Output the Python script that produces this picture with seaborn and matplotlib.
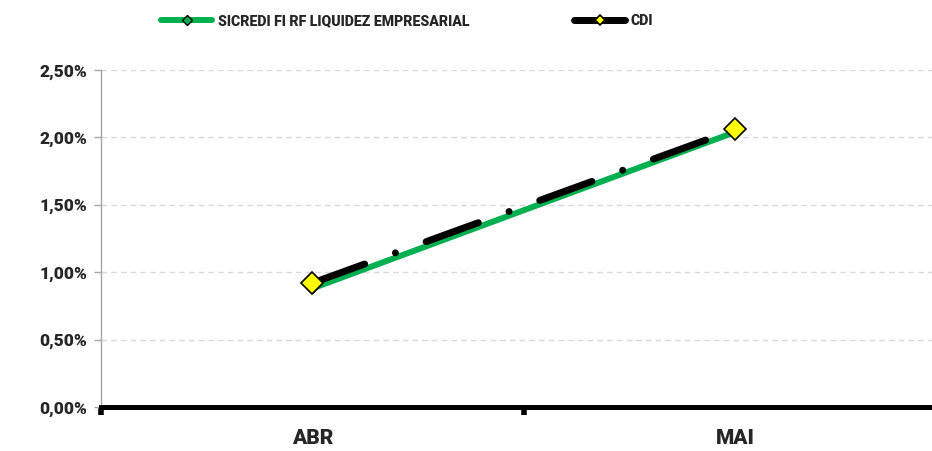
import seaborn as sns
import matplotlib.pyplot as plt
import pandas as pd
from matplotlib.ticker import FuncFormatter, FixedLocator

months = ["ABR", "MAI"]
fundo = [0.0088, 0.0204]
cdi = [0.0092, 0.0206]
y_ticks = [0.0, 0.005, 0.010, 0.015, 0.020, 0.025]

sns.set_theme(style="white")
plt.rcParams['font.family'] = ['Roboto', 'DejaVu Sans']

data = pd.DataFrame({"mes": months, "fundo": fundo, "cdi": cdi})

fig = plt.figure(figsize=(9.32, 4.51), dpi=100)
ax = fig.add_axes([0.1084, 0.0976, 0.8916, 0.7472])

sns.lineplot(data=data, x="mes", y="fundo", ax=ax, color="#00B050", linewidth=4.3,
             marker="D", markersize=5, markerfacecolor="#00B050", markeredgecolor="black",
             markeredgewidth=1, label="SICREDI FI RF LIQUIDEZ EMPRESARIAL", zorder=3)
sns.lineplot(data=data, x="mes", y="cdi", ax=ax, color="black", linewidth=5,
             marker="D", markersize=11.5, markerfacecolor="#FFFF00", markeredgecolor="black",
             markeredgewidth=1.2, label="CDI", zorder=4)
cdi_line = ax.get_lines()[-1]
cdi_line.set_dashes([8, 4.7, 0.01, 4.7])
cdi_line.set_dash_capstyle("round")
ax.get_lines()[0].set_solid_capstyle("butt")

ax.set_xlim(-0.5, 1.465)
ax.set_ylim(0, 0.025)
ax.yaxis.set_major_locator(FixedLocator(y_ticks))
ax.yaxis.set_major_formatter(FuncFormatter(lambda v, p: f"{v*100:.2f}%".replace(".", ",")))
ax.grid(axis="y", color="#D9D9D9", linestyle=(0, (4, 3)), linewidth=1)
ax.set_axisbelow(True)

ax.set_xticks([0, 1])
ax.set_xticklabels(months, fontsize=15, fontweight="black")
ax.set_xticks([-0.5, 0.5], minor=True)
ax.tick_params(axis="x", which="major", length=0, pad=16)
ax.tick_params(axis="x", which="minor", length=6, width=4, color="black", direction="out", bottom=True)
ax.tick_params(axis="y", length=5, width=1, color="#A6A6A6", left=True, labelsize=12.5, pad=5)
for lbl in ax.get_yticklabels():
    lbl.set_fontweight("black")

for side in ["top", "right"]:
    ax.spines[side].set_visible(False)
ax.spines["left"].set_color("#A6A6A6")
ax.spines["left"].set_linewidth(1)
ax.spines["bottom"].set_color("black")
ax.spines["bottom"].set_linewidth(3.6)
ax.set_xlabel("")
ax.set_ylabel("")

ax.get_legend().remove()
handles, labels = ax.get_legend_handles_labels()
leg = fig.legend(handles, labels, loc="center", bbox_to_anchor=(0.437, 0.953), ncol=2,
                 frameon=False, handlelength=3.6, columnspacing=7.4, handletextpad=0.4,
                 prop={"weight": "black", "size": 10.2})
for h in leg.legend_handles:
    h.set_markersize(5)
    h.set_linestyle("-")
    h.set_solid_capstyle("round")

fig.savefig("out.png", dpi=100)
